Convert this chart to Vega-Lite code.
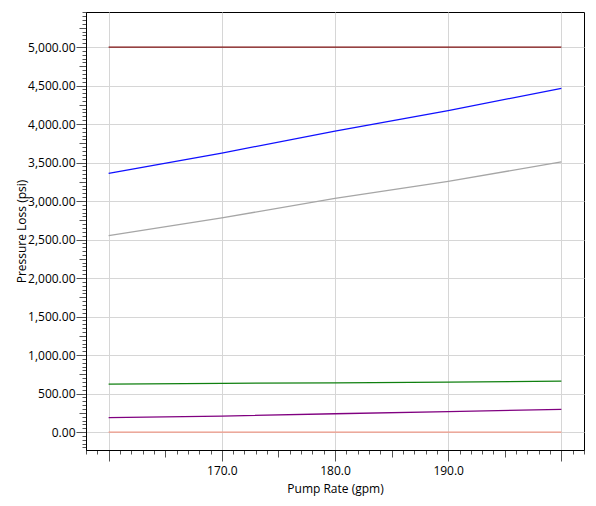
{
  "$schema": "https://vega.github.io/schema/vega-lite/v6.json",
  "width": 498,
  "height": 438,
  "autosize": "none",
  "padding": {"left": 86, "top": 12, "right": 12, "bottom": 56},
  "background": "white",
  "config": {
    "view": {"stroke": "black", "strokeWidth": 1},
    "font": "Open Sans"
  },
  "data": {
    "values": [
      {"series": "Max Pressure", "rate": 160, "psi": 5000},
      {"series": "Max Pressure", "rate": 170, "psi": 5000},
      {"series": "Max Pressure", "rate": 180, "psi": 5000},
      {"series": "Max Pressure", "rate": 190, "psi": 5000},
      {"series": "Max Pressure", "rate": 200, "psi": 5000},
      {"series": "Total", "rate": 160, "psi": 3360},
      {"series": "Total", "rate": 170, "psi": 3623},
      {"series": "Total", "rate": 180, "psi": 3908},
      {"series": "Total", "rate": 190, "psi": 4175},
      {"series": "Total", "rate": 200, "psi": 4463},
      {"series": "Drill String", "rate": 160, "psi": 2552},
      {"series": "Drill String", "rate": 170, "psi": 2781},
      {"series": "Drill String", "rate": 180, "psi": 3034},
      {"series": "Drill String", "rate": 190, "psi": 3256},
      {"series": "Drill String", "rate": 200, "psi": 3508},
      {"series": "Tools", "rate": 160, "psi": 623},
      {"series": "Tools", "rate": 170, "psi": 632},
      {"series": "Tools", "rate": 180, "psi": 640},
      {"series": "Tools", "rate": 190, "psi": 649},
      {"series": "Tools", "rate": 200, "psi": 662},
      {"series": "Bit", "rate": 160, "psi": 187},
      {"series": "Bit", "rate": 170, "psi": 208},
      {"series": "Bit", "rate": 180, "psi": 238},
      {"series": "Bit", "rate": 190, "psi": 265},
      {"series": "Bit", "rate": 200, "psi": 295},
      {"series": "Surface", "rate": 160, "psi": 0},
      {"series": "Surface", "rate": 170, "psi": 0},
      {"series": "Surface", "rate": 180, "psi": 0},
      {"series": "Surface", "rate": 190, "psi": 0},
      {"series": "Surface", "rate": 200, "psi": 0}
    ]
  },
  "mark": {"type": "line", "clip": true},
  "encoding": {
    "x": {
      "field": "rate",
      "type": "quantitative",
      "scale": {"domain": [158, 202], "nice": false, "zero": false},
      "axis": {
        "title": "Pump Rate (gpm)",
        "tickCount": 44,
        "labelExpr": "datum.value % 10 === 0 && datum.value > 160 && datum.value < 200 ? format(datum.value, '.1f') : ''",
        "labelOverlap": false,
        "labelFlush": false,
        "labelPadding": 4,
        "tickSize": {"condition": [{"test": "datum.value % 10 === 0", "value": 11}, {"test": "datum.value % 5 === 0", "value": 7}], "value": 4},
        "gridOpacity": {"condition": {"test": "datum.value % 10 === 0", "value": 1}, "value": 0},
        "gridColor": "#d6d6d6",
        "tickColor": "#555555",
        "domainColor": "black",
        "labelColor": "black",
        "labelFontSize": 12,
        "titleFontSize": 12,
        "titleFontWeight": "normal",
        "titleColor": "black",
        "titleY": 38,
        "titleBaseline": "middle"
      }
    },
    "y": {
      "field": "psi",
      "type": "quantitative",
      "scale": {"domain": [-233, 5455], "nice": false, "zero": false},
      "axis": {
        "title": "Pressure Loss (psi)",
        "tickCount": 114,
        "format": ",.2f",
        "labelExpr": "datum.value % 500 === 0 && datum.value >= 0 ? datum.label : ''",
        "labelOverlap": false,
        "labelFlush": false,
        "labelPadding": 1,
        "tickSize": {"condition": [{"test": "datum.value % 500 === 0", "value": 10}, {"test": "datum.value % 250 === 0", "value": 7}], "value": 4},
        "gridOpacity": {"condition": {"test": "datum.value % 500 === 0", "value": 1}, "value": 0},
        "gridColor": "#d6d6d6",
        "tickColor": "#555555",
        "domainColor": "black",
        "labelColor": "black",
        "labelFontSize": 12,
        "titleFontSize": 12,
        "titleFontWeight": "normal",
        "titleColor": "black",
        "titleX": -65,
        "titleBaseline": "middle"
      }
    },
    "color": {
      "field": "series",
      "type": "nominal",
      "scale": {
        "domain": ["Max Pressure", "Total", "Drill String", "Tools", "Bit", "Surface"],
        "range": ["#7f1010", "#1010ff", "#a6a6a6", "#108010", "#800080", "#f09a88"]
      },
      "legend": null
    },
    "strokeWidth": {
      "field": "series",
      "type": "nominal",
      "scale": {
        "domain": ["Max Pressure", "Total", "Drill String", "Tools", "Bit", "Surface"],
        "range": [1.3, 1.3, 1, 1.3, 1.3, 2.5]
      },
      "legend": null
    }
  }
}
